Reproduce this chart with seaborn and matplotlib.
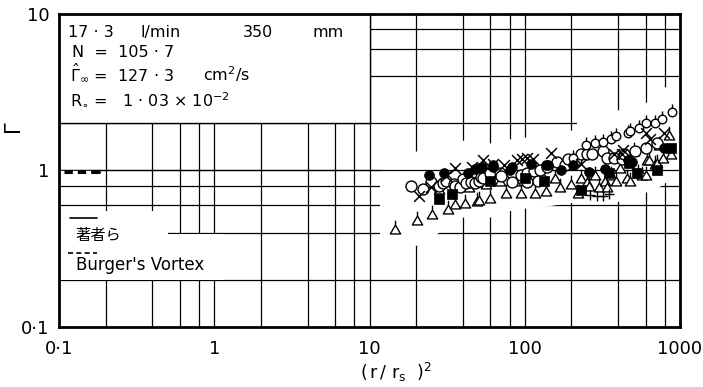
import matplotlib
matplotlib.use("Agg")
import matplotlib.pyplot as plt
from matplotlib.path import Path
from matplotlib.patches import Rectangle, Polygon
from matplotlib.ticker import NullLocator
import pandas as pd
import seaborn as sns

# ---- measured circulation ratio against (r/r_s)^2 ----
circ_x = [18.6, 22, 25, 28, 29.7, 31, 35, 35.5, 38, 40, 42, 45, 47.5, 51, 52, 54, 60,
          69, 70, 83, 83, 95, 103, 104, 115, 121, 125, 140, 162, 182, 189, 215, 230,
          250, 270, 320, 340, 374, 420, 435, 513, 605, 715]
circ_y = [0.80, 0.76, 0.84, 0.80, 0.83, 0.86, 0.82, 0.80, 0.78, 0.88, 0.83, 0.85, 0.83,
          0.86, 0.91, 0.89, 0.96, 0.97, 0.92, 0.96, 0.84, 0.93, 0.97, 0.84, 0.99, 0.86,
          1.00, 1.06, 1.13, 1.08, 1.19, 1.16, 1.28, 1.28, 1.28, 1.34, 1.21, 1.21, 1.19,
          1.28, 1.34, 1.40, 1.49]

circ_tick_x = [205, 248, 284, 320, 360, 385, 460, 478, 545, 605, 690, 770, 890]
circ_tick_y = [1.20, 1.45, 1.49, 1.51, 1.60, 1.65, 1.73, 1.78, 1.86, 2.00, 2.00, 2.12, 2.35]

dot_x = [24, 30, 43, 48, 51, 53, 62, 62, 80, 83, 110, 138, 142, 170, 205, 260, 330,
         465, 490, 785]
dot_y = [0.93, 0.96, 0.97, 1.02, 1.03, 1.05, 1.08, 1.05, 1.00, 1.05, 1.10, 1.08, 1.08,
         1.00, 1.08, 0.98, 1.02, 1.16, 1.13, 1.40]

sq_x = [28, 34, 60, 100, 134, 230, 350, 470, 530, 715, 880]
sq_y = [0.66, 0.71, 0.86, 0.90, 0.86, 0.75, 0.97, 1.12, 0.97, 1.00, 1.40]

cross_x = [20.8, 25, 31, 35.6, 46, 54, 62, 74, 89, 96, 104, 113, 148, 230, 375, 420,
           430, 605, 645, 785]
cross_y = [0.69, 0.79, 0.92, 1.03, 1.05, 1.16, 1.10, 1.08, 1.16, 1.19, 1.21, 1.19,
           1.30, 1.10, 1.28, 1.28, 1.35, 1.73, 1.60, 1.73]

tri_x = [14.5, 20.2, 25.1, 28, 32, 35.4, 38, 41, 44, 49, 51, 52, 56, 60, 69, 76, 86,
         94, 104, 116, 130, 137, 157, 168, 198, 220, 230, 250, 260, 284, 300, 327, 337,
         360, 387, 412, 455, 478, 505, 540, 570, 605, 610, 630, 690, 715, 730, 775, 853,
         875]
tri_y = [0.42, 0.48, 0.53, 0.76, 0.57, 0.61, 0.80, 0.62, 0.78, 0.64, 0.65, 0.85, 0.82,
         0.67, 0.86, 0.72, 0.86, 0.72, 0.90, 0.72, 0.93, 0.74, 0.90, 0.78, 0.82, 0.72,
         0.90, 0.84, 0.80, 0.93, 0.78, 0.86, 0.78, 0.93, 0.86, 1.03, 0.89, 0.86, 1.34,
         0.97, 0.93, 0.93, 1.16, 1.16, 1.10, 1.11, 1.45, 1.21, 1.68, 1.28]

plus_x = [265, 290, 320, 350]
plus_y = [0.70, 0.69, 0.69, 0.71]

# ---- model curves near the axis ----
model_x = [0.1, 0.18]
model_y = [0.985, 0.985]

x_ticks = [0.1, 1, 10, 100, 1000]
x_labels = ["0·1", "1", "10", "100", "1000"]
y_ticks = [0.1, 1, 10]
y_labels = ["0·1", "1", "10"]

W, H = 703, 387


def P(px, py):
    """pixel position (from top-left) -> figure fraction"""
    return px / W, 1 - py / H


sns.set_theme(style="white")
plt.rcParams["font.family"] = ["DejaVu Sans", "Noto Sans CJK JP"]
plt.rcParams["mathtext.fontset"] = "custom"
plt.rcParams["mathtext.rm"] = "DejaVu Sans"
plt.rcParams["mathtext.it"] = "DejaVu Sans"
plt.rcParams["mathtext.sf"] = "DejaVu Sans"

fig = plt.figure(figsize=(W / 100, H / 100), dpi=100)
ax = fig.add_axes([59 / W, 1 - 327 / H, (680 - 59) / W, (327 - 14) / H])
ax.set_xscale("log")
ax.set_yscale("log")
ax.set_xlim(0.1, 1000)
ax.set_ylim(0.1, 10)
ax.set_facecolor("white")

# graph-paper grid: 1..10 steps of 2 in every decade
grid_kw = dict(color="black", lw=0.9, zorder=1)
for dec in [0.1, 1, 10, 100]:
    for m in [1, 2, 4, 6, 8]:
        v = dec * m
        if 0.1 < v < 1000:
            ax.axvline(v, **grid_kw)
for dec in [0.1, 1]:
    for m in [1, 2, 4, 6, 8]:
        v = dec * m
        if 0.1 < v < 10:
            ax.axhline(v, **grid_kw)

# cleared areas: annotation box, key and the band around the measurements
ax.add_patch(Rectangle((0.1, 2.0), 10 - 0.1, 8.0, facecolor="white",
                       edgecolor="black", lw=1.0, zorder=2))
ax.add_patch(Rectangle((0.1, 0.2), 0.5 - 0.1, 0.555 - 0.2, facecolor="white",
                       edgecolor="none", zorder=2))
ax.add_patch(Rectangle((0.1, 0.2), 1.15 - 0.1, 0.39 - 0.2, facecolor="white",
                       edgecolor="none", zorder=2))
band = [(11.7, 1.30), (20, 1.32), (40, 1.55), (60, 1.49), (80, 1.58), (100, 1.62),
        (200, 1.80), (216, 1.85), (217, 2.03), (400, 2.42), (600, 2.68), (800, 3.4),
        (1000, 3.4), (1000, 0.86), (800, 0.83), (750, 0.79), (600, 0.72), (400, 0.63),
        (200, 0.62), (150, 0.595), (100, 0.57), (80, 0.55), (60, 0.5), (40, 0.5),
        (27, 0.39), (20, 0.33), (11.7, 0.33)]
ax.add_patch(Polygon(band, closed=True, facecolor="white", edgecolor="none", zorder=2))
ax.axhline(1.0, color="black", lw=0.9, zorder=3)

# theoretical curves (solid: present model, dashed: Burgers vortex)
ax.plot(model_x, model_y, color="black", lw=2.2, zorder=3)
ax.plot(model_x, model_y, color="white", lw=2.4, ls=(0, (1.5, 2.5)), zorder=3)

# marker shapes with a short stem on top
tri_path = Path([(-0.5, -0.43), (0.5, -0.43), (0, 0.43), (-0.5, -0.43), (0, 0.43), (0, 0.85)],
                [Path.MOVETO, Path.LINETO, Path.LINETO, Path.CLOSEPOLY, Path.MOVETO, Path.LINETO])
circ_path = Path.make_compound_path(
    Path.circle((0, 0), 0.45),
    Path([(0, 0.45), (0, 0.85)], [Path.MOVETO, Path.LINETO]))

open_kw = dict(facecolor="white", edgecolor="black", linewidth=1.0, zorder=4, legend=False)
sns.scatterplot(data=pd.DataFrame({"x": tri_x, "y": tri_y}), x="x", y="y",
                marker=tri_path, s=160, ax=ax, **open_kw)
sns.scatterplot(data=pd.DataFrame({"x": circ_x, "y": circ_y}), x="x", y="y",
                marker="o", s=62, ax=ax, **open_kw)
sns.scatterplot(data=pd.DataFrame({"x": circ_tick_x, "y": circ_tick_y}), x="x", y="y",
                marker=circ_path, s=135, ax=ax, **open_kw)
sns.scatterplot(data=pd.DataFrame({"x": dot_x, "y": dot_y}), x="x", y="y",
                marker="o", s=50, color="black", edgecolor="black", linewidth=0.5,
                zorder=5, ax=ax, legend=False)
sns.scatterplot(data=pd.DataFrame({"x": sq_x, "y": sq_y}), x="x", y="y",
                marker="s", s=45, color="black", edgecolor="black", linewidth=0.5,
                zorder=5, ax=ax, legend=False)
sns.scatterplot(data=pd.DataFrame({"x": cross_x, "y": cross_y}), x="x", y="y",
                marker="x", s=60, color="black", linewidth=1.1, zorder=5, ax=ax, legend=False)
sns.scatterplot(data=pd.DataFrame({"x": plus_x, "y": plus_y}), x="x", y="y",
                marker="+", s=55, color="black", linewidth=1.0, zorder=5, ax=ax, legend=False)

# axes, ticks and labels
for sp in ax.spines.values():
    sp.set_visible(True)
    sp.set_color("black")
    sp.set_linewidth(2.0)
    sp.set_zorder(6)
ax.set_xticks(x_ticks)
ax.set_xticklabels(x_labels)
ax.set_yticks(y_ticks)
ax.set_yticklabels(y_labels)
ax.xaxis.set_minor_locator(NullLocator())
ax.yaxis.set_minor_locator(NullLocator())
ax.tick_params(axis="both", length=0, labelsize=13, colors="black")
ax.tick_params(axis="x", pad=9)
ax.tick_params(axis="y", pad=7)
ax.set_xlabel("")
ax.set_ylabel("")

fig.text(*P(396, 372), r"$\mathrm{(\,r\,/\ r_{s}\ \ )^{2}}$", ha="center", va="center",
         fontsize=12.5, color="black")
fig.text(*P(15, 128), r"$\Gamma$", rotation=90, ha="center", va="center",
         fontsize=15, color="black")

# annotation box text
tk = dict(fontsize=11.5, color="black", va="baseline", ha="left", zorder=7)
fig.text(*P(68, 37), "17 · 3", **tk)
fig.text(*P(140, 37), "l/min", **tk)
fig.text(*P(243, 37), "350", **tk)
fig.text(*P(312, 37), "mm", **tk)
fig.text(*P(72, 57), "N  =  105 · 7", **tk)
fig.text(*P(70, 81), r"$\hat{\Gamma}_{\infty}$ =  127 · 3", **tk)
fig.text(*P(203, 81), r"cm$^{2}$/s", **tk)
fig.text(*P(70, 105), r"R$_{\circ}$ =   1 · 03 × 10$^{-2}$", **tk)

# key
fig.add_artist(plt.Line2D([70 / W, 97 / W], [1 - 218 / H, 1 - 218 / H], color="black", lw=1.2))
fig.text(*P(76, 240), "著者ら", fontsize=11, family=["Noto Sans CJK JP"], va="baseline",
         color="black")
fig.add_artist(plt.Line2D([68 / W, 97 / W], [1 - 253 / H, 1 - 253 / H], color="black",
                          lw=1.2, ls=(0, (3, 2))))
fig.text(*P(76, 270), "Burger's Vortex", fontsize=12, va="baseline", color="black")

fig.savefig("out.png", dpi=100, facecolor="white")
